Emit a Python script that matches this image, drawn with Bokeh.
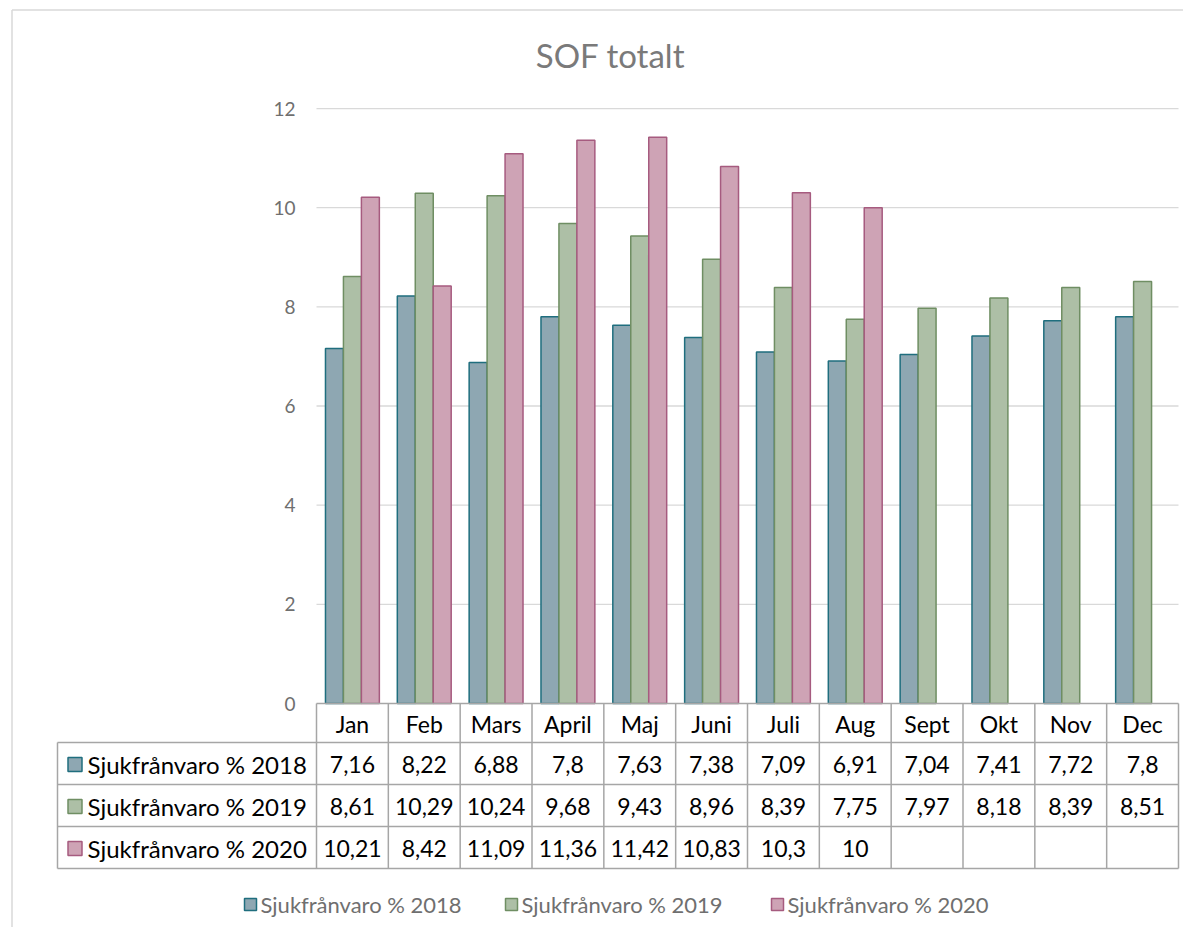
from bokeh.plotting import figure
from bokeh.models import Range1d, ColumnDataSource
from bokeh.core.properties import value
from bokeh.embed import file_html
from bokeh.resources import INLINE

# ---------------- data ----------------
months = ["Jan", "Feb", "Mars", "April", "Maj", "Juni", "Juli", "Aug", "Sept", "Okt", "Nov", "Dec"]
series_names = ["Sjukfrånvaro % 2018", "Sjukfrånvaro % 2019", "Sjukfrånvaro % 2020"]
v2018 = [7.16, 8.22, 6.88, 7.8, 7.63, 7.38, 7.09, 6.91, 7.04, 7.41, 7.72, 7.8]
v2019 = [8.61, 10.29, 10.24, 9.68, 9.43, 8.96, 8.39, 7.75, 7.97, 8.18, 8.39, 8.51]
v2020 = [10.21, 8.42, 11.09, 11.36, 11.42, 10.83, 10.3, 10.0]
y_ticks = [0, 2, 4, 6, 8, 10, 12]
title_text = "SOF totalt"

series = [v2018, v2019, v2020]
fills = ["#8ea7b2", "#adbfa6", "#cea3b5"]
lines = ["#1f6e7e", "#6f8e63", "#a65b7f"]

# ---------------- layout helpers (screen px -> data) ----------------
W, H = 1183, 927
ORG = 0.0                       # screen px of canvas left/top
X0, X1 = 316.0, 1178.0          # plot area left/right (px)
CW = (X1 - X0) / len(months)    # px per category
Y0PX, PU = 703.0, 49.58         # px of value 0, px per unit

def X(px):
    return (px - X0) / CW

def Y(py):
    return (Y0PX - py) / PU

FONT = value("Lato")

p = figure(width=W, height=H, output_backend="svg", toolbar_location=None,
           x_range=Range1d(X(ORG), X(ORG + W)), y_range=Range1d(Y(ORG + H), Y(ORG)),
           min_border=0, min_border_left=0, min_border_right=0,
           min_border_top=0, min_border_bottom=0)
p.axis.visible = False
p.grid.visible = False
p.outline_line_color = None
p.background_fill_color = "white"
p.border_fill_color = "white"

# chart outer border (left + top visible)
p.segment(x0=[X(11.5), X(11.5)], y0=[Y(9.5), Y(9.5)],
          x1=[X(11.5), X(1200)], y1=[Y(940), Y(9.5)],
          line_color="#d9d9d9", line_width=1.5)

# gridlines
gt = [t for t in y_ticks if t > 0]
p.segment(x0=[0] * len(gt), x1=[len(months)] * len(gt), y0=gt, y1=gt,
          line_color="#d9d9d9", line_width=1.3)

# y tick labels
p.text(x=[X(295)] * len(y_ticks), y=y_ticks, text=[str(t) for t in y_ticks],
       text_font=FONT, text_font_size="19px", text_color="#6f6f6f",
       text_align="right", text_baseline="middle")

# title
p.text(x=[X(610)], y=[Y(54)], text=[title_text], text_font=FONT,
       text_font_size="33px", text_color="#7a7a7a",
       text_align="center", text_baseline="middle")

# bars
bw = 0.25
offsets = [-0.25, 0.0, 0.25]
for s, vals in enumerate(series):
    xs = [i + 0.5 + offsets[s] for i in range(len(vals))]
    src = ColumnDataSource(dict(x=xs, top=vals))
    p.vbar(x="x", top="top", bottom=0, width=bw, source=src,
           fill_color=fills[s], line_color=lines[s], line_width=1.5)

# ---------------- data table ----------------
row_px = [703, 742, 784, 826, 868]  # row borders (px)
tcol = "#a6a6a6"
p.segment(x0=[0], x1=[len(months)], y0=[Y(row_px[0])], y1=[Y(row_px[0])],
          line_color=tcol, line_width=1.5)
hl = row_px[1:]
p.segment(x0=[X(57)] * len(hl), x1=[len(months)] * len(hl),
          y0=[Y(r) for r in hl], y1=[Y(r) for r in hl],
          line_color=tcol, line_width=1.5)
vx = list(range(len(months) + 1))
p.segment(x0=vx, x1=vx, y0=[Y(row_px[0])] * len(vx), y1=[Y(row_px[-1])] * len(vx),
          line_color=tcol, line_width=1.5)
p.segment(x0=[X(57)], x1=[X(57)], y0=[Y(row_px[1])], y1=[Y(row_px[-1])],
          line_color=tcol, line_width=1.5)

TFS = "23px"
hy = Y((row_px[0] + row_px[1]) / 2 + 1)
p.text(x=[i + 0.5 for i in range(len(months))], y=[hy] * len(months), text=months,
       text_font=FONT, text_font_size=TFS, text_color="black",
       text_align="center", text_baseline="middle")

def fmt(v):
    return f"{v:g}".replace(".", ",")

for s, vals in enumerate(series):
    cy = Y((row_px[s + 1] + row_px[s + 2]) / 2 + 1)
    p.text(x=[i + 0.5 for i in range(len(vals))], y=[cy] * len(vals),
           text=[fmt(v) for v in vals], text_font=FONT, text_font_size=TFS,
           text_color="black", text_align="center", text_baseline="middle")
    p.rect(x=[X(74.5)], y=[cy], width=14 / CW, height=14 / PU,
           fill_color=fills[s], line_color=lines[s], line_width=1.5)
    p.text(x=[X(87)], y=[cy], text=[series_names[s]], text_font=FONT,
           text_font_size="24px", text_color="black",
           text_align="left", text_baseline="middle")

# ---------------- bottom legend ----------------
leg_sq = [250, 511, 777]
leg_y = Y(904)
for s in range(3):
    p.rect(x=[X(leg_sq[s])], y=[leg_y], width=12 / CW, height=12 / PU,
           fill_color=fills[s], line_color=lines[s], line_width=1.5)
    p.text(x=[X(leg_sq[s] + 10)], y=[leg_y], text=[series_names[s]], text_font=FONT,
           text_font_size="22px", text_color="#6f6f6f",
           text_align="left", text_baseline="middle")

open("out.html", "w").write(file_html(p, INLINE))
